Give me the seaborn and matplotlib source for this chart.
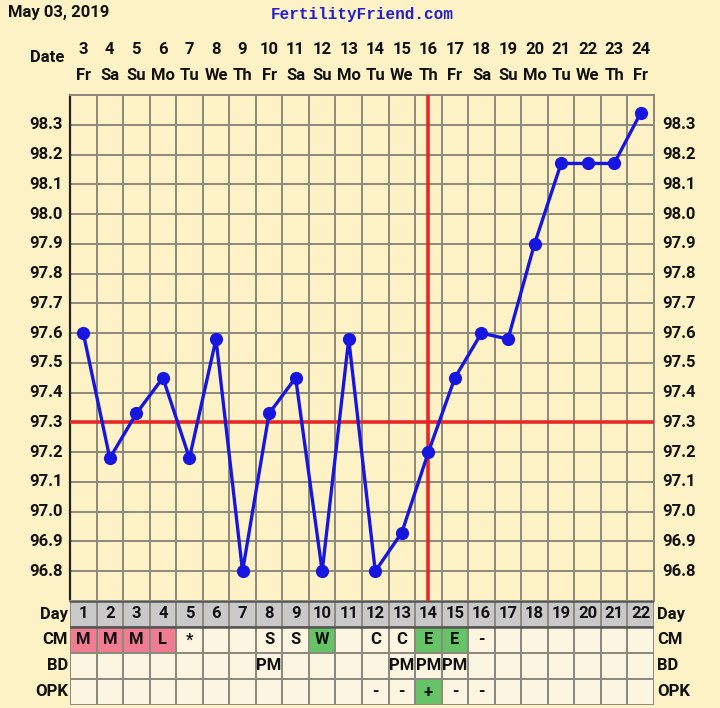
import matplotlib
matplotlib.use("Agg")
import matplotlib.pyplot as plt
from matplotlib.colors import ListedColormap
import seaborn as sns
import numpy as np
import pandas as pd

# ── Data ───────────────────────────────────────────────────────────────
cycle_days = list(range(1, 23))
dates = list(range(3, 25))
weekdays = ["Fr", "Sa", "Su", "Mo", "Tu", "We", "Th", "Fr", "Sa", "Su", "Mo",
            "Tu", "We", "Th", "Fr", "Sa", "Su", "Mo", "Tu", "We", "Th", "Fr"]
temps = [97.60, 97.18, 97.33, 97.45, 97.18, 97.58, 96.80, 97.33, 97.45, 96.80, 97.58,
         96.80, 96.93, 97.20, 97.45, 97.60, 97.58, 97.90, 98.17, 98.17, 98.17, 98.34]
cm = ["M", "M", "M", "L", "*", "", "", "S", "S", "W", "",
      "C", "C", "E", "E", "-", "", "", "", "", "", ""]
bd = ["", "", "", "", "", "", "", "PM", "", "", "",
      "", "PM", "PM", "PM", "", "", "", "", "", "", ""]
opk = ["", "", "", "", "", "", "", "", "", "", "",
       "-", "-", "+", "-", "-", "", "", "", "", "", ""]
cover_line = 97.3
ovulation_day = 14
ytick_vals = [96.8, 96.9, 97.0, 97.1, 97.2, 97.3, 97.4, 97.5, 97.6, 97.7, 97.8, 97.9, 98.0, 98.1, 98.2, 98.3]
row_names = ["Day", "CM", "BD", "OPK"]

BG = "#FDF2C6"
CELL = "#FCF5E1"
GRAY = "#C9C9C9"
PINK = "#F07C92"
GREEN = "#66C466"
GRID = "#8C8A7C"
BLUE = "#1616E0"
RED = "#E62828"
INK = "#111111"

sns.set_theme(style="white")
plt.rcParams["font.family"] = ["Roboto", "DejaVu Sans"]

W, H = 720, 708
FS = 12
fig = plt.figure(figsize=(W / 100, H / 100), dpi=100, facecolor=BG)

def box(x0, y0, x1, y1):
    return [x0 / W, 1 - y1 / H, (x1 - x0) / W, (y1 - y0) / H]

# ── Temperature chart ─────────────────────────────────────────────────
ax = fig.add_axes(box(70, 95, 654, 601))
ax.set_facecolor(BG)
df = pd.DataFrame({"day": cycle_days, "temp": temps})
sns.lineplot(data=df, x="day", y="temp", ax=ax, color=BLUE, linewidth=2.4,
             marker="o", markersize=9.5, markeredgewidth=0, zorder=5)
ax.axhline(cover_line, color=RED, linewidth=2.6, zorder=4)
ax.axvline(ovulation_day, color=RED, linewidth=2.6, zorder=4)

ax.set_xlim(0.5, 22.5)
ax.set_ylim(96.7, 98.4)
ax.set_xticks(np.arange(0.5, 23, 1))
ax.set_xticklabels([])
ax.set_yticks(np.arange(96.7, 98.41, 0.1))
ax.set_yticklabels([])
ax.grid(True, color=GRID, linewidth=1.4)
ax.tick_params(length=0)
for s in ["top", "right", "bottom"]:
    ax.spines[s].set_color(GRID)
    ax.spines[s].set_linewidth(1.4)
ax.spines["left"].set_color("#222222")
ax.spines["left"].set_linewidth(1.6)
ax.set_xlabel("")
ax.set_ylabel("")

# temperature labels on both sides
for v in ytick_vals:
    ax.annotate(f"{v:.1f}", xy=(0, v), xycoords=("axes fraction", "data"),
                xytext=(-5, 0), textcoords="offset points", ha="right", va="center",
                fontsize=FS, fontweight="bold", color=INK)
    ax.annotate(f"{v:.1f}", xy=(1, v), xycoords=("axes fraction", "data"),
                xytext=(6, 0), textcoords="offset points", ha="left", va="center",
                fontsize=FS, fontweight="bold", color=INK)

# dates and weekdays on top
for d, dt, wd in zip(cycle_days, dates, weekdays):
    ax.text(d, 1 + 46 / 506, str(dt), transform=ax.get_xaxis_transform(),
            ha="center", va="center", fontsize=FS, fontweight="bold", color=INK)
    ax.text(d, 1 + 20 / 506, wd, transform=ax.get_xaxis_transform(),
            ha="center", va="center", fontsize=FS, fontweight="bold", color=INK)
fig.text(64 / W, 1 - 58 / H, "Date", ha="right", va="center", fontsize=FS,
         fontweight="bold", color=INK)
fig.text(8 / W, 1 - 13 / H, "May 03, 2019", ha="left", va="center", fontsize=FS,
         fontweight="bold", color=INK)
fig.text(362 / W, 1 - 14 / H, "FertilityFriend.com", ha="center", va="center",
         fontsize=11.5, fontweight="bold", color="#2020D0", family="Liberation Mono")

# ── Bottom table ──────────────────────────────────────────────────────
color_map = {"M": 2, "L": 2, "W": 3, "E": 3}
codes = [[1] * 22,
         [color_map.get(c, 0) for c in cm],
         [0] * 22,
         [3 if o == "+" else 0 for o in opk]]
labels = [[str(d) for d in cycle_days], cm, bd, opk]

tax = fig.add_axes(box(70, 601, 654, 705))
sns.heatmap(np.array(codes), ax=tax, cmap=ListedColormap([CELL, GRAY, PINK, GREEN]),
            vmin=-0.5, vmax=3.5, cbar=False, annot=np.array(labels), fmt="",
            annot_kws={"fontsize": FS, "fontweight": "bold", "color": INK},
            linewidths=1.4, linecolor=GRID, xticklabels=False, yticklabels=False)
tax.axhline(1, color="#555555", linewidth=1.8)
tax.axhline(0, color="#555555", linewidth=1.8)
for i, name in enumerate(row_names):
    tax.text(-0.08, i + 0.5, name, ha="right", va="center", fontsize=FS,
             fontweight="bold", color=INK)
    tax.text(22.12, i + 0.5, name, ha="left", va="center", fontsize=FS,
             fontweight="bold", color=INK)

fig.savefig("out.png", dpi=100, facecolor=BG)
